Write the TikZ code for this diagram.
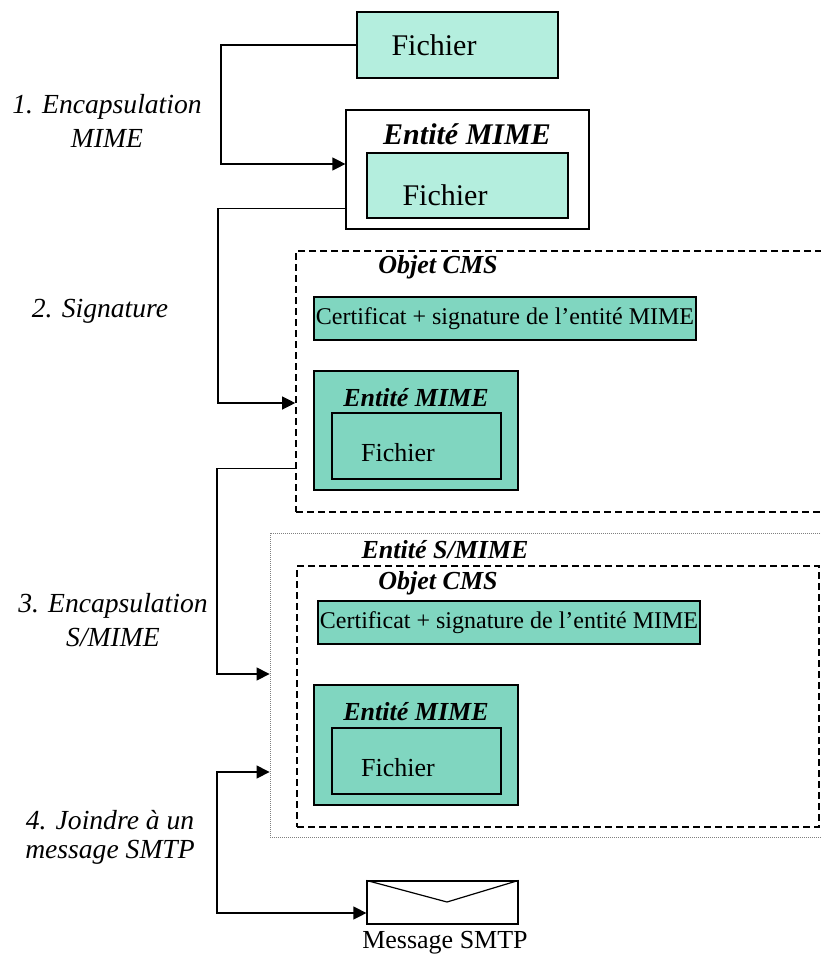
\documentclass[tikz,border=0pt]{standalone}
\usepackage{fontspec}
\setmainfont{Liberation Serif}
\usetikzlibrary{arrows.meta, positioning}

\definecolor{fichierfill}{RGB}{180,238,222}
\definecolor{cmsfill}{RGB}{128,214,192}

\begin{document}
\begin{tikzpicture}[x=1pt, y=-1pt,
  sized/.style 2 args={minimum width=#1pt, minimum height=#2pt},
  box/.style={draw, line width=1.2pt, inner sep=0pt},
  fichbox/.style={box, fill=fichierfill},
  cmsbox/.style={box, fill=cmsfill},
  cmsframe/.style={draw, line width=1.6pt, dash pattern=on 7pt off 4pt, inner sep=0pt},
  smimeframe/.style={draw, gray, line width=0.8pt, dash pattern=on 1pt off 1pt, inner sep=0pt},
  link/.style={line width=1.2pt, -{Triangle[length=13pt,width=13pt]}},
  twoway/.style={line width=1.2pt, {Triangle[length=13pt,width=13pt]}-{Triangle[length=13pt,width=13pt]}},
  txt/.style={inner sep=0pt, font=\fontsize{26}{30}\selectfont},
  bigtxt/.style={inner sep=0pt, font=\fontsize{30}{34}\selectfont},
  title/.style={inner sep=0pt, font=\fontsize{26}{30}\selectfont\bfseries\itshape},
  bigtitle/.style={inner sep=0pt, font=\fontsize{30}{34}\selectfont\bfseries\itshape},
  steplbl/.style={inner sep=0pt, align=center, font=\fontsize{27.6}{34}\selectfont\itshape}]

  \useasboundingbox (0,0) rectangle (821,958);

  % fichier seul
  \node[fichbox, sized={201}{66}] (fich1) at (457.5,45) {};
  \node[bigtxt] (fich1txt) at (434,45) {Fichier};

  % entite MIME
  \node[box, fill=white, sized={243}{119}] (ent1) at (467.5,169.5) {};
  \node[bigtitle] (ent1lbl) at (467,134) {Entité MIME};
  \node[fichbox, sized={201}{65}] (fich2) at (467.5,185.5) {};
  \node[bigtxt] (fich2txt) at (445,195) {Fichier};

  % objet CMS
  \node[cmsframe, sized={534}{261}] (cms1) at (563,381.5) {};
  \node[title] (cms1lbl) at (438,267) {Objet CMS};
  \node[cmsbox, sized={382}{43}, font=\fontsize{24}{28}\selectfont] (cert1) at (505,318.5) {Certificat + signature de l’entité MIME};
  \node[cmsbox, sized={204}{119}] (ent2) at (416,430.5) {};
  \node[title] (ent2lbl) at (416,398) {Entité MIME};
  \node[box, sized={169}{66}] (fich3) at (416.5,446) {};
  \node[txt] (fich3txt) at (398,453) {Fichier};

  % entite S/MIME
  \node[smimeframe, sized={560}{304}] (smime) at (550,685) {};
  \node[title] (smimelbl) at (445,550) {Entité S/MIME};
  \node[cmsframe, sized={522}{261}] (cms2) at (558,696.5) {};
  \node[title] (cms2lbl) at (438,583) {Objet CMS};
  \node[cmsbox, sized={382}{43}, font=\fontsize{24}{28}\selectfont] (cert2) at (509,622.5) {Certificat + signature de l’entité MIME};
  \node[cmsbox, sized={204}{120}] (ent3) at (416,745) {};
  \node[title] (ent3lbl) at (416,712) {Entité MIME};
  \node[box, sized={169}{66}] (fich4) at (416.5,761) {};
  \node[txt] (fich4txt) at (398,768) {Fichier};

  % message SMTP
  \node[box, fill=white, sized={151}{43}] (env) at (442.5,902.5) {};
  \coordinate (flap) at (447,902);
  \draw[line width=1.2pt] (env.north west) -- (flap) -- (env.north east);
  \node[txt] (envlbl) at (445,943) {Message SMTP};

  % etapes
  \coordinate (b1) at (221,164);
  \coordinate (b2) at (218,403);
  \coordinate (b3) at (217,674);
  \coordinate (t4) at (217,772);
  \coordinate (b4) at (217,913);

  \draw[link] (fich1.west) -| (b1) -- (ent1.west |- b1);
  \draw[link] ([yshift=21pt]ent1.south west) -| (b2) -- (cms1.west |- b2);
  \draw[link] ([yshift=44pt]cms1.south west) -| (b3) -- (smime.west |- b3);
  \draw[twoway] (smime.west |- t4) -- (t4) -- (b4) -- (env.west |- b4);

  \node[steplbl] (lbl1) at (107,121) {1. Encapsulation\\MIME};
  \node[steplbl] (lbl2) at (100,311) {2. Signature};
  \node[steplbl] (lbl3) at (113,620) {3. Encapsulation\\S/MIME};
  \node[steplbl, font=\fontsize{27.6}{29}\selectfont\itshape] (lbl4) at (110,837) {4. Joindre à un\\message SMTP};

\end{tikzpicture}
\end{document}
